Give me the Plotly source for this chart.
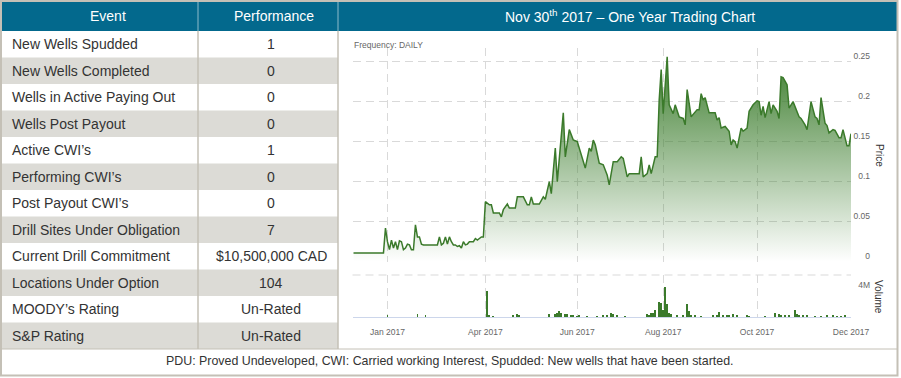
import plotly.graph_objects as go

W, H = 901, 378

# ---------------- data ----------------
events = ["New Wells Spudded", "New Wells Completed", "Wells in Active Paying Out",
          "Wells Post Payout", "Active CWI\u2019s", "Performing CWI\u2019s",
          "Post Payout CWI\u2019s", "Drill Sites Under Obligation",
          "Current Drill Commitment", "Locations Under Option",
          "MOODY\u2019s Rating", "S&P Rating"]
performance = ["1", "0", "0", "0", "1", "0", "0", "7", "$10,500,000 CAD", "104",
               "Un-Rated", "Un-Rated"]

# trading-day index (ordinal axis) and closing price
price_idx = [0, 15, 16, 17, 18, 19, 20, 21, 22, 23, 24, 25, 26, 27, 28, 29, 30, 31, 32, 33,
             34, 35, 41, 42, 43, 44, 45, 46, 47, 48, 49, 50, 51, 52, 53, 54, 55, 56, 57, 58,
             59, 60, 61, 62, 63, 64, 65, 66, 68, 69, 70, 73, 74, 75, 77, 78, 81, 82, 85, 87,
             88, 89, 90, 93, 95, 96, 98, 99, 101, 102, 105, 106, 108, 110, 112, 113, 116, 118,
             119, 120, 121, 123, 125, 127, 128, 130, 132, 134, 135, 137, 138, 143, 144, 145,
             147, 148, 149, 151, 152, 153, 154, 155, 157, 158, 160, 161, 163, 165, 166, 167,
             169, 172, 173, 174, 175, 176, 178, 181, 182, 183, 184, 186, 188, 189, 190, 191,
             192, 194, 195, 197, 198, 200, 202, 203, 204, 205, 206, 208, 209, 210, 212, 213,
             214, 215, 217, 218, 220, 223, 224, 226, 227, 229, 231, 232, 233, 234, 236, 237,
             238, 240, 241, 243, 244, 245, 247, 248, 249]
price_val = [0.011, 0.011, 0.042, 0.025, 0.015, 0.027, 0.017, 0.025, 0.015, 0.026, 0.025,
             0.015, 0.017, 0.022, 0.021, 0.015, 0.015, 0.046, 0.031, 0.031, 0.022, 0.021,
             0.021, 0.021, 0.031, 0.021, 0.023, 0.031, 0.022, 0.031, 0.025, 0.021, 0.021,
             0.019, 0.020, 0.017, 0.025, 0.021, 0.022, 0.025, 0.025, 0.025, 0.029, 0.027,
             0.029, 0.031, 0.031, 0.075, 0.071, 0.071, 0.061, 0.061, 0.056, 0.065, 0.072,
             0.067, 0.067, 0.081, 0.081, 0.071, 0.071, 0.081, 0.072, 0.072, 0.081, 0.078,
             0.100, 0.085, 0.142, 0.100, 0.186, 0.131, 0.165, 0.152, 0.150, 0.142, 0.117,
             0.142, 0.138, 0.152, 0.146, 0.123, 0.121, 0.108, 0.096, 0.125, 0.125, 0.131,
             0.129, 0.106, 0.110, 0.110, 0.131, 0.106, 0.110, 0.121, 0.110, 0.131, 0.131,
             0.202, 0.240, 0.185, 0.256, 0.196, 0.185, 0.196, 0.181, 0.179, 0.171, 0.215,
             0.181, 0.190, 0.190, 0.210, 0.202, 0.205, 0.186, 0.186, 0.177, 0.180, 0.167,
             0.169, 0.163, 0.146, 0.152, 0.150, 0.142, 0.167, 0.163, 0.167, 0.188, 0.196,
             0.201, 0.200, 0.183, 0.194, 0.180, 0.200, 0.185, 0.196, 0.188, 0.179, 0.231,
             0.230, 0.221, 0.192, 0.200, 0.181, 0.179, 0.171, 0.165, 0.200, 0.181, 0.179,
             0.171, 0.205, 0.173, 0.170, 0.161, 0.165, 0.164, 0.155, 0.155, 0.165, 0.145,
             0.145, 0.160]

vol_idx = [17, 32, 36, 67, 68, 70, 80, 82, 83, 98, 101, 102, 103, 104, 106, 107, 109, 110,
           112, 113, 117, 122, 125, 127, 129, 130, 132, 136, 147, 148, 149, 150, 151, 153,
           154, 155, 156, 157, 158, 159, 162, 165, 167, 168, 169, 171, 174, 180, 182, 183,
           185, 187, 188, 190, 192, 197, 198, 206, 211, 213, 214, 216, 218, 221, 222, 223,
           225, 227, 231, 234, 237, 240, 242, 244, 246]
vol_val = [0.3, 0.5, 0.3, 4.05, 0.4, 0.2, 0.3, 0.5, 0.4, 0.5, 0.45, 0.7, 1.0, 0.7, 0.5, 0.45,
           0.35, 0.3, 0.25, 0.3, 0.25, 0.2, 0.3, 0.4, 0.6, 0.45, 0.35, 0.2, 0.45, 0.4, 0.6,
           0.7, 1.1, 2.33, 2.1, 1.1, 4.65, 2.0, 0.7, 0.5, 0.3, 0.4, 2.0, 0.9, 0.4, 0.3, 0.25,
           0.3, 0.35, 0.8, 0.4, 0.35, 0.4, 0.5, 0.3, 0.4, 0.25, 0.25, 0.6, 0.45, 0.4, 0.35,
           0.3, 1.1, 0.45, 0.4, 0.35, 0.3, 0.25, 0.25, 0.3, 0.3, 0.25, 0.25, 0.3]  # millions

tick_idx = [17, 66, 112, 155, 202, 249]
tick_text = ["Jan 2017", "Apr 2017", "Jun 2017", "Aug 2017", "Oct 2017", "Dec 2017"]
price_ticks = [0, 0.05, 0.1, 0.15, 0.2, 0.25]
price_tick_text = ["0", "0.05", "0.1", "0.15", "0.2", "0.25"]

# ---------------- styling ----------------
FONT = "Arial, 'Liberation Sans', sans-serif"
TEAL = "#03698d"
ROWGRAY = "#dcdbd6"
BORDER = "#c4c0b6"
GREEN = "#3b7a2b"
GRID = "#d9d9d9"
DASH = "8px,5px"
PRICE_RANGE = [0, 0.267]


def px(x):
    return x / W


def py(y):
    return 1 - y / H


fig = go.Figure()
fig.add_trace(go.Scatter(
    x=price_idx, y=price_val, mode="lines",
    line=dict(color=GREEN, width=1.5),
    fill="tozeroy",
    fillgradient=dict(type="vertical", start=0, stop=0.26,
                      colorscale=[[0, "rgba(60,125,45,0.0)"], [1, "rgba(60,125,45,1)"]]),
    xaxis="x", yaxis="y", hoverinfo="skip", showlegend=False))
# invisible trace so the right-aligned label axis of the price pane is drawn
fig.add_trace(go.Scatter(x=[None], y=[None], xaxis="x", yaxis="y3", mode="lines",
                         showlegend=False, hoverinfo="skip"))
fig.add_trace(go.Bar(
    x=vol_idx, y=[v * 1e6 for v in vol_val], marker=dict(color=GREEN, line=dict(width=0)),
    width=0.9, xaxis="x2", yaxis="y2", hoverinfo="skip", showlegend=False))

x_dom = [px(352.5), px(851)]
axis_font = dict(family=FONT, size=8.5, color="#666666")

fig.update_layout(
    width=W, height=H, autosize=False, margin=dict(l=0, r=0, t=0, b=0, pad=0),
    paper_bgcolor="white", plot_bgcolor="rgba(0,0,0,0)",
    font=dict(family=FONT),
    bargap=0,
    xaxis=dict(domain=x_dom, range=[-0.5, 249], anchor="y", tickvals=tick_idx,
               showticklabels=False, showgrid=True, gridcolor=GRID, griddash=DASH,
               gridwidth=1, zeroline=False, showline=False, ticks="", automargin=False),
    yaxis=dict(domain=[py(261.7), py(48)], range=PRICE_RANGE, anchor="x", side="right",
               tickvals=price_ticks, showticklabels=False,
               showgrid=True, gridcolor=GRID, griddash=DASH, gridwidth=1,
               zeroline=False, showline=False, ticks="", automargin=False),
    yaxis3=dict(overlaying="y", range=PRICE_RANGE, anchor="free", position=px(870),
                side="left", tickvals=price_ticks, ticktext=price_tick_text,
                showgrid=False, zeroline=False, showline=False, ticks="",
                tickfont=axis_font, ticklabelshift=-6, automargin=False),
    xaxis2=dict(domain=x_dom, range=[-0.5, 249], anchor="y2", matches="x",
                tickvals=tick_idx, ticktext=tick_text, showgrid=True, gridcolor=GRID,
                griddash=DASH, zeroline=False, showline=True, linecolor="#ccd6eb",
                linewidth=1, ticks="", tickfont=axis_font, ticklabelstandoff=6,
                automargin=False),
    yaxis2=dict(domain=[py(317.3), py(275)], range=[0, 6.43e6], anchor="free",
                position=px(870), side="left", tickvals=[4e6], ticktext=["4M"],
                showgrid=False, zeroline=False, showline=False, ticks="",
                tickfont=axis_font, ticklabelshift=-6, automargin=False),
)

shapes = []
ann = []

# header band
shapes.append(dict(type="rect", xref="paper", yref="paper", x0=px(2), x1=px(897),
                   y0=py(31), y1=py(2), fillcolor=TEAL, line=dict(width=0), layer="below"))
# table rows
ROW_H = 26.5
TOP = 31
for i, (ev, pf) in enumerate(zip(events, performance)):
    y0 = TOP + ROW_H * i
    if i % 2 == 1:
        shapes.append(dict(type="rect", xref="paper", yref="paper", x0=px(2), x1=px(338),
                           y0=py(y0 + ROW_H), y1=py(y0), fillcolor=ROWGRAY,
                           line=dict(width=0), layer="below"))
    yc = py(y0 + ROW_H / 2)
    ann.append(dict(x=px(9.5), y=yc, xref="paper", yref="paper", text=ev, showarrow=False,
                    xanchor="left", yanchor="middle",
                    font=dict(family=FONT, size=14, color="#333333")))
    ann.append(dict(x=px(271), y=yc, xref="paper", yref="paper", text=pf, showarrow=False,
                    xanchor="center", yanchor="middle",
                    font=dict(family=FONT, size=14, color="#333333")))
TABLE_BOTTOM = TOP + ROW_H * len(events)

# grid lines of the table
for xs in (198, 338):
    shapes.append(dict(type="line", xref="paper", yref="paper", x0=px(xs), x1=px(xs),
                       y0=py(TABLE_BOTTOM), y1=py(TOP), line=dict(color=BORDER, width=1.5)))
    shapes.append(dict(type="line", xref="paper", yref="paper", x0=px(xs), x1=px(xs),
                       y0=py(TOP), y1=py(2), line=dict(color="rgba(255,255,255,0.55)", width=1)))
shapes.append(dict(type="line", xref="paper", yref="paper", x0=px(2), x1=px(897),
                   y0=py(TABLE_BOTTOM), y1=py(TABLE_BOTTOM), line=dict(color=BORDER, width=1)))
shapes.append(dict(type="rect", xref="paper", yref="paper", x0=px(1), x1=px(897.5),
                   y0=py(375.5), y1=py(1), line=dict(color=BORDER, width=2)))
# top dashed line of the volume pane
shapes.append(dict(type="line", xref="paper", yref="paper", x0=x_dom[0], x1=x_dom[1],
                   y0=py(275), y1=py(275), line=dict(color=GRID, width=1, dash=DASH)))

# header texts
hfont = dict(family=FONT, size=14, color="white")
ann.append(dict(x=px(108), y=py(16.5), xref="paper", yref="paper", text="Event",
                showarrow=False, xanchor="center", yanchor="middle", font=hfont))
ann.append(dict(x=px(274), y=py(16.5), xref="paper", yref="paper", text="Performance",
                showarrow=False, xanchor="center", yanchor="middle", font=hfont))
ann.append(dict(x=px(630), y=py(16.5), xref="paper", yref="paper",
                text="Nov 30<sup>th</sup> 2017 \u2013 One Year Trading Chart",
                showarrow=False, xanchor="center", yanchor="middle", font=hfont))
# chart texts
ann.append(dict(x=px(352), y=py(45), xref="paper", yref="paper", text="Frequency: DAILY",
                showarrow=False, xanchor="left", yanchor="middle",
                font=dict(family=FONT, size=8.5, color="#666666")))
ann.append(dict(x=px(879), y=py(155), xref="paper", yref="paper", text="Price",
                showarrow=False, textangle=90, xanchor="center", yanchor="middle",
                font=dict(family=FONT, size=10, color="#333333")))
ann.append(dict(x=px(879), y=py(297), xref="paper", yref="paper", text="Volume",
                showarrow=False, textangle=90, xanchor="center", yanchor="middle",
                font=dict(family=FONT, size=10, color="#333333")))
# footer
ann.append(dict(x=px(450), y=py(361), xref="paper", yref="paper",
                text="PDU: Proved Undeveloped, CWI: Carried working Interest, Spudded: New wells that have been started.",
                showarrow=False, xanchor="center", yanchor="middle",
                font=dict(family=FONT, size=12.4, color="#333333")))

fig.update_layout(shapes=shapes, annotations=ann)
fig.write_html(
    "out.html",
    config={"displayModeBar": False, "staticPlot": True, "responsive": False},
    post_script=("document.documentElement.style.overflow='hidden';"
                 "document.body.style.margin='0px';"
                 "document.body.style.overflow='hidden';"),
)
